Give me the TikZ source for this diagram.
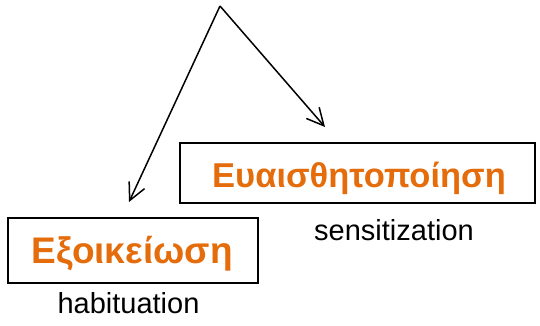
\documentclass[tikz,border=0pt]{standalone}
\usepackage{fontspec}
\setmainfont{Liberation Sans}
\usetikzlibrary{arrows.meta}
\definecolor{orangetxt}{RGB}{228,108,10}
\tikzset{
  boxframe/.style={draw=black, line width=2pt, inner sep=0pt},
  greektxt/.style={text=orangetxt, font=\bfseries, anchor=base, inner sep=0pt},
  engtxt/.style={text=black, anchor=base, inner sep=0pt, font=\fontsize{29}{32}\selectfont},
  arrowline/.style={draw=black, line width=1.5pt, -{Straight Barb[length=17pt,width=17pt,line width=1.5pt]}}
}
\begin{document}
\begin{tikzpicture}[x=1pt,y=-1pt]
\useasboundingbox (0,0) rectangle (540,326);
\node[boxframe, minimum width=355pt, minimum height=60pt] (sens) at (357.5,173) {};
\node[greektxt, font=\bfseries\fontsize{34.5}{38}\selectfont] (senstxt) at (359,187) {Ευαισθητοποίηση};
\node[boxframe, minimum width=250pt, minimum height=65pt] (hab) at (133,250.5) {};
\node[greektxt, font=\bfseries\fontsize{37}{40}\selectfont] (habtxt) at (132,263) {Εξοικείωση};
\node[engtxt] (senslab) at (394,240) {sensitization};
\node[engtxt] (hablab) at (128.5,313) {habituation};
\coordinate (apex) at (220,6);
\coordinate (tipS) at (325,127);
\coordinate (tipH) at (129,202);
\draw[arrowline] (apex) -- (tipS);
\draw[arrowline] (apex) -- (tipH);
\end{tikzpicture}
\end{document}
